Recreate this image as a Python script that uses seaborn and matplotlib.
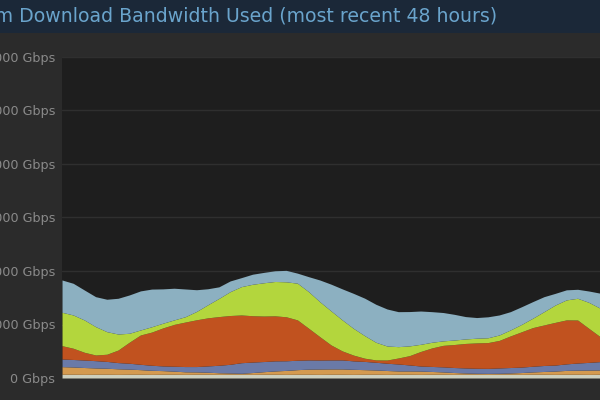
import pandas as pd
import seaborn as sns
import matplotlib.pyplot as plt
from matplotlib.patches import Rectangle

# -----------------------
# 1. Data (Gbps, hourly over the last 48 hours)
# -----------------------

hours = list(range(49))

other = [700, 700, 680, 700, 700, 680, 700, 700, 680, 700, 700, 680, 700,
         700, 680, 700, 700, 680, 700, 700, 680, 700, 700, 680, 700,
         700, 680, 700, 700, 680, 700, 700, 680, 700, 700, 680, 700,
         700, 680, 700, 700, 680, 700, 700, 680, 700, 700, 680, 700]
tan = [1420, 1360, 1280, 1180, 1120, 1040, 960, 860, 760, 680, 580, 480, 440,
       380, 300, 240, 180, 340, 480, 620, 740, 860, 960, 1000, 1000,
       1000, 940, 860, 800, 720, 620, 620, 620, 520, 440, 340, 240,
       180, 180, 180, 240, 340, 440, 520, 620, 720, 760, 800, 800]
slate = [1440, 1400, 1400, 1360, 1280, 1160, 1100, 1000, 940, 880, 920, 980, 1000,
         1180, 1400, 1620, 1980, 1960, 1900, 1880, 1800, 1760, 1720, 1680, 1680,
         1680, 1580, 1540, 1440, 1360, 1300, 1120, 940, 940, 940, 940, 940,
         940, 940, 1000, 1020, 1020, 1060, 1120, 1120, 1220, 1340, 1440, 1560]
red = [2480, 2100, 1440, 1060, 1340, 2340, 3920, 5480, 6200, 7100, 7820, 8320, 8740,
       8980, 9100, 9120, 8920, 8660, 8500, 8420, 8220, 7540, 5920, 4360, 2800,
       1680, 1080, 600, 440, 600, 1120, 1740, 2720, 3460, 4020, 4300, 4580,
       4740, 4820, 5140, 5900, 6600, 7220, 7580, 7980, 8220, 8040, 6360, 4680]
green = [6240, 6220, 6040, 5300, 4220, 3000, 1680, 940, 1000, 880, 840, 1000, 1560,
         2440, 3400, 4460, 5300, 5880, 6220, 6420, 6540, 6860, 6840, 6540, 6360,
         5800, 5000, 4220, 3300, 2620, 2120, 1820, 1340, 1060, 840, 840, 840,
         880, 900, 1020, 1120, 1380, 1760, 2480, 3240, 3740, 4060, 4860, 5320]
bluegray = [6040, 5920, 5600, 5600, 6060, 6680, 7160, 7300, 7040, 6420, 5920, 5180, 4060,
            3000, 2160, 2000, 1680, 1880, 1940, 2000, 2140, 1880, 2800, 4060, 5000,
            5800, 6540, 7000, 7100, 6920, 6540, 6420, 6220, 5720, 5300, 4800, 4180,
            3860, 3920, 3740, 3420, 3300, 3100, 2800, 2180, 1880, 1680, 2120, 2800]

series_names = ["other", "tan", "slate", "red", "green", "bluegray"]
colors = ["#cdcfbd", "#d49a4f", "#6a7aa8", "#c1521f", "#b3d63d", "#8cb0c1"]

y_ticks = [0, 10000, 20000, 30000, 40000, 50000, 60000]
y_labels = ["0 Gbps", "10000 Gbps", "20000 Gbps", "30000 Gbps",
            "40000 Gbps", "50000 Gbps", "60000 Gbps"]

df = pd.DataFrame({"hour": hours, "other": other, "tan": tan, "slate": slate,
                   "red": red, "green": green, "bluegray": bluegray})

# -----------------------
# 2. Plot
# -----------------------

sns.set_theme(style="dark", rc={
    "figure.facecolor": "#2b2b2b",
    "axes.facecolor": "#1e1e1e",
    "axes.edgecolor": "#1e1e1e",
    "grid.color": "#2e2e2e",
})
plt.rcParams["font.family"] = ["DejaVu Sans"]

fig = plt.figure(figsize=(6, 4), dpi=100)
ax = fig.add_axes([62 / 600, 22 / 400, 538 / 600, 321 / 400])

ax.stackplot(df["hour"], *[df[c] for c in series_names],
             colors=colors, linewidth=0)

ax.set_xlim(0, 48)
ax.set_ylim(0, 60000)
ax.set_yticks(y_ticks)
ax.set_yticklabels(y_labels)
ax.set_xticks([])
ax.yaxis.grid(True, color="#2f2f2f", linewidth=1)
ax.tick_params(axis="y", length=0, pad=5, labelsize=9.2, labelcolor="#8a8a8a")
for s in ax.spines.values():
    s.set_visible(False)
ax.set_xlabel("")
ax.set_ylabel("")

# title bar
fig.patches.append(Rectangle((0, 367 / 400), 1, 33 / 400, transform=fig.transFigure,
                             facecolor="#1b2838", edgecolor="none", zorder=0))
fig.text(497 / 600, 384 / 400, "Steam Download Bandwidth Used (most recent 48 hours)",
         ha="right", va="center", fontsize=13.6, color="#6aa4cc")

plt.savefig("out.png", dpi=100)
